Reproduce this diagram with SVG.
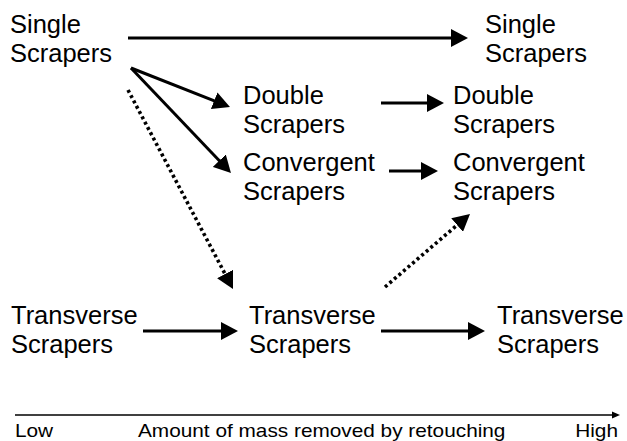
<svg xmlns="http://www.w3.org/2000/svg" width="627" height="441" viewBox="0 0 627 441">
<defs>
<style>
.t{font-family:"Liberation Sans",Arial,sans-serif;font-size:25.5px;fill:#000}
.a{font-family:"Liberation Sans",Arial,sans-serif;font-size:20.8px;fill:#000}
.s{stroke:#000;stroke-width:3;fill:none}
.d{stroke:#000;stroke-width:3.6;fill:none;stroke-dasharray:3 3}
</style>
<marker id="ah" markerUnits="userSpaceOnUse" markerWidth="17" markerHeight="18" refX="5" refY="9" orient="auto">
<path d="M0,0 L17,9 L0,18 z" fill="#000"/>
</marker>
<marker id="sa" markerUnits="userSpaceOnUse" markerWidth="8" markerHeight="8" refX="2" refY="4" orient="auto">
<path d="M0,0.5 L8,4 L0,7.5 z" fill="#000"/>
</marker>
</defs>
<rect width="627" height="441" fill="#fff"/>
<g id="connectors">
<line class="s" x1="128" y1="38" x2="456" y2="38" marker-end="url(#ah)"/>
<line class="s" x1="131" y1="68" x2="218.8" y2="102.6" marker-end="url(#ah)"/>
<line class="s" x1="131" y1="68" x2="222.7" y2="164.3" marker-end="url(#ah)"/>
<line class="d" x1="128" y1="90" x2="227.4" y2="278.4" marker-end="url(#ah)"/>
<line class="s" x1="381" y1="103" x2="432" y2="103" marker-end="url(#ah)"/>
<line class="s" x1="389" y1="171" x2="426" y2="171" marker-end="url(#ah)"/>
<line class="d" x1="385" y1="287" x2="460.9" y2="221.8" marker-end="url(#ah)"/>
<line class="s" x1="143" y1="331" x2="226" y2="331" marker-end="url(#ah)"/>
<line class="s" x1="381" y1="331" x2="473" y2="331" marker-end="url(#ah)"/>
<line stroke="#000" stroke-width="1.5" x1="15" y1="415" x2="614" y2="415" marker-end="url(#sa)"/>
</g>
<g id="single-low"><text class="t" x="10" y="33">Single</text><text class="t" x="10" y="62">Scrapers</text></g>
<g id="single-high"><text class="t" x="485" y="33">Single</text><text class="t" x="485" y="62">Scrapers</text></g>
<g id="double-mid"><text class="t" x="243" y="104">Double</text><text class="t" x="243" y="133">Scrapers</text></g>
<g id="double-high"><text class="t" x="453" y="104">Double</text><text class="t" x="453" y="133">Scrapers</text></g>
<g id="convergent-mid"><text class="t" x="243" y="171">Convergent</text><text class="t" x="243" y="200">Scrapers</text></g>
<g id="convergent-high"><text class="t" x="453" y="171">Convergent</text><text class="t" x="453" y="200">Scrapers</text></g>
<g id="transverse-low"><text class="t" x="11" y="324">Transverse</text><text class="t" x="11" y="353">Scrapers</text></g>
<g id="transverse-mid"><text class="t" x="249" y="324">Transverse</text><text class="t" x="249" y="353">Scrapers</text></g>
<g id="transverse-high"><text class="t" x="497" y="324">Transverse</text><text class="t" x="497" y="353">Scrapers</text></g>
<g id="axis-labels" transform="translate(0,437) scale(1,0.87)">
<text class="a" x="15" y="0">Low</text>
<text class="a" x="138" y="0">Amount of mass removed by retouching</text>
<text class="a" x="618" y="0" text-anchor="end">High</text>
</g>
</svg>
